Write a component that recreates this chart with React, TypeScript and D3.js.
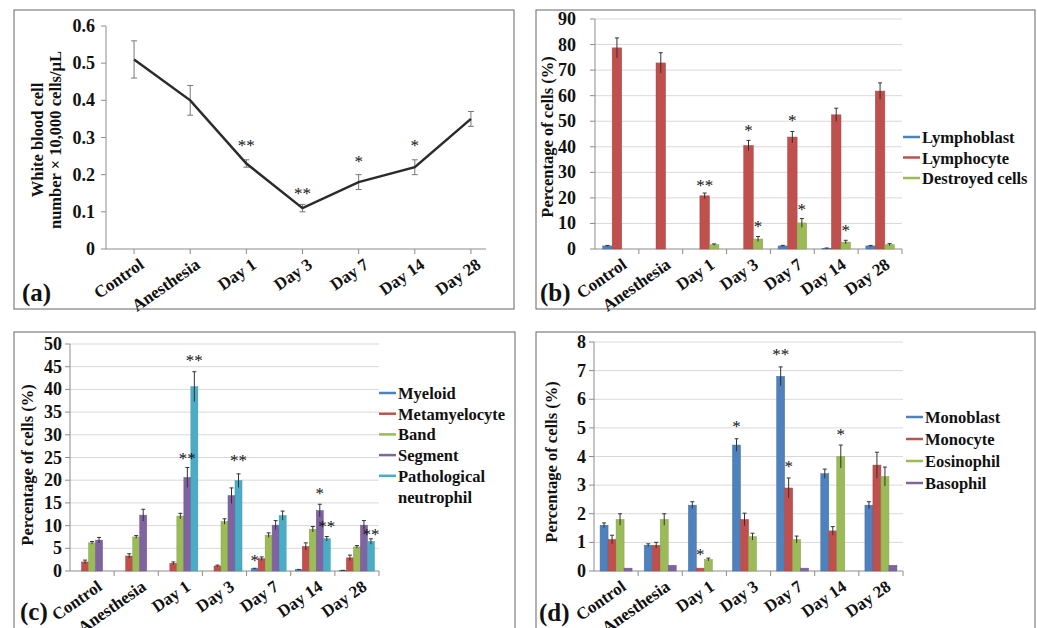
import React from 'react';
import * as d3 from 'd3';

const FONT = "'Liberation Serif', 'Times New Roman', serif";

const categories = ['Control', 'Anesthesia', 'Day 1', 'Day 3', 'Day 7', 'Day 14', 'Day 28'];

// (a) white blood cell count
const wbcMean = [0.51, 0.4, 0.23, 0.11, 0.18, 0.22, 0.35];
const wbcErr = [0.05, 0.04, 0.01, 0.01, 0.02, 0.02, 0.02];
const wbcTicks = [0, 0.1, 0.2, 0.3, 0.4, 0.5, 0.6];
const wbcStars = [
  { cat: 2, value: 0.284, text: '**' },
  { cat: 3, value: 0.157, text: '**' },
  { cat: 4, value: 0.241, text: '*' },
  { cat: 5, value: 0.284, text: '*' },
];

// (b) lymphocytes
const lymphNames = ['Lymphoblast', 'Lymphocyte', 'Destroyed cells'];
const lymphoblast = [1.2, 0, 0, 0, 1.2, 0.3, 1.2];
const lymphoblastErr = [0.2, 0, 0, 0, 0.2, 0.1, 0.2];
const lymphocyte = [78.7, 72.8, 20.8, 40.5, 43.8, 52.5, 61.8];
const lymphocyteErr = [3.9, 4, 1.1, 2, 2.2, 2.6, 3.2];
const destroyed = [0, 0, 1.7, 3.9, 10.2, 2.7, 1.7];
const destroyedErr = [0, 0, 0.3, 1, 1.7, 0.7, 0.4];
const lymphTicks = [0, 10, 20, 30, 40, 50, 60, 70, 80, 90];
const lymphStars = [
  { cat: 2, series: 1, value: 25.9, text: '**' },
  { cat: 3, series: 1, value: 47.5, text: '*' },
  { cat: 4, series: 1, value: 51.1, text: '*' },
  { cat: 3, series: 2, value: 9.8, text: '*' },
  { cat: 4, series: 2, value: 16.3, text: '*' },
  { cat: 5, series: 2, value: 8.1, text: '*' },
];

// (c) granulocytes
const granNames = ['Myeloid', 'Metamyelocyte', 'Band', 'Segment', 'Pathological\nneutrophil'];
const myeloid = [0, 0, 0, 0, 0.5, 0.3, 0.1];
const myeloidErr = [0, 0, 0, 0, 0.1, 0.05, 0.05];
const metamyelocyte = [2, 3.3, 1.7, 1.1, 2.7, 5.4, 2.9];
const metamyelocyteErr = [0.4, 0.5, 0.3, 0.2, 0.4, 0.8, 0.6];
const band = [6.2, 7.5, 12.1, 10.9, 7.9, 9.2, 5.3];
const bandErr = [0.3, 0.3, 0.6, 0.6, 0.5, 0.6, 0.3];
const segment = [6.8, 12.3, 20.6, 16.6, 10.1, 13.3, 10.1];
const segmentErr = [0.6, 1.3, 2.2, 1.7, 1, 1.4, 1];
const pathological = [0, 0, 40.6, 19.9, 12.2, 7.1, 6.5];
const pathologicalErr = [0, 0, 3.3, 1.5, 1, 0.5, 0.6];
const granTicks = [0, 5, 10, 15, 20, 25, 30, 35, 40, 45, 50];
const granStars = [
  { cat: 2, series: 4, value: 47.0, text: '**' },
  { cat: 2, series: 3, value: 25.4, text: '**' },
  { cat: 3, series: 4, value: 24.8, text: '**' },
  { cat: 4, series: 0, value: 2.9, text: '*' },
  { cat: 5, series: 3, value: 17.6, text: '*' },
  { cat: 5, series: 4, value: 10.4, text: '**' },
  { cat: 6, series: 4, value: 8.7, text: '**' },
];

// (d) monocytes etc.
const monoNames = ['Monoblast', 'Monocyte', 'Eosinophil', 'Basophil'];
const monoblast = [1.6, 0.9, 2.3, 4.4, 6.8, 3.4, 2.3];
const monoblastErr = [0.08, 0.05, 0.12, 0.22, 0.33, 0.16, 0.12];
const monocyte = [1.1, 0.9, 0.1, 1.8, 2.9, 1.4, 3.7];
const monocyteErr = [0.15, 0.1, 0, 0.22, 0.35, 0.15, 0.45];
const eosinophil = [1.8, 1.8, 0.4, 1.2, 1.1, 4.0, 3.3];
const eosinophilErr = [0.2, 0.2, 0.05, 0.12, 0.12, 0.4, 0.33];
const basophil = [0.1, 0.2, 0, 0, 0.1, 0, 0.2];
const basophilErr = [0, 0, 0, 0, 0, 0, 0];
const monoTicks = [0, 1, 2, 3, 4, 5, 6, 7, 8];
const monoStars = [
  { cat: 2, series: 1, value: 0.67, text: '*' },
  { cat: 3, series: 0, value: 5.12, text: '*' },
  { cat: 4, series: 0, value: 7.66, text: '**' },
  { cat: 4, series: 1, value: 3.73, text: '*' },
  { cat: 5, series: 2, value: 4.87, text: '*' },
];

const BLUE = '#4F81BD';
const RED = '#C0504D';
const GREEN = '#9BBB59';
const PURPLE = '#8064A2';
const CYAN = '#4BACC6';

const AXIS = '#8c8c8c';
const GRID = '#d9d9d9';

const XLabels = ({ xs, y }: { xs: number[]; y: number }) => (
  <g>
    {categories.map((c, i) => (
      <text
        key={c}
        transform={`translate(${xs[i] + 11},${y + 18}) rotate(-35)`}
        textAnchor="end"
        fontFamily={FONT}
        fontWeight="bold"
        fontSize={17}
        fill="#111"
      >
        {c}
      </text>
    ))}
  </g>
);

const LinePanel = () => {
  const left = 106, right = 499, top = 26, bottom = 249;
  const x = d3.scaleBand().domain(categories).range([left, right]);
  const cx = (c: string) => (x(c) as number) + x.bandwidth() / 2;
  const y = d3.scaleLinear().domain([0, 0.6]).range([bottom, top]);
  const line = d3
    .line<number>()
    .x((_, i) => cx(categories[i]))
    .y((d) => y(d));
  const xs = categories.map(cx);
  return (
    <g>
      <rect x={14} y={10} width={500} height={299} fill="none" stroke="#666" strokeWidth={1} />
      <line x1={left} x2={left} y1={top} y2={bottom} stroke={AXIS} />
      <line x1={left} x2={486} y1={bottom} y2={bottom} stroke={AXIS} />
      {wbcTicks.map((t) => (
        <g key={t}>
          <line x1={left - 5} x2={left} y1={y(t)} y2={y(t)} stroke={AXIS} />
          <text x={left - 11} y={y(t) + 6} textAnchor="end" fontFamily={FONT} fontWeight="bold" fontSize={18} fill="#111">
            {t}
          </text>
        </g>
      ))}
      {xs.map((v, i) => (
        <line key={i} x1={v} x2={v} y1={bottom} y2={bottom + 5} stroke={AXIS} />
      ))}
      <XLabels xs={xs} y={bottom} />
      <g transform="translate(43,140) rotate(-90)" fontFamily={FONT} fontWeight="bold" fontSize={16.5} fill="#111" textAnchor="middle">
        <text x={0} y={0}>White blood cell</text>
        <text x={0} y={18}>number × 10,000 cells/µL</text>
      </g>
      {wbcMean.map((m, i) => (
        <g key={i} stroke="#777" strokeWidth={1}>
          <line x1={xs[i]} x2={xs[i]} y1={y(m - wbcErr[i])} y2={y(m + wbcErr[i])} />
          <line x1={xs[i] - 3} x2={xs[i] + 3} y1={y(m - wbcErr[i])} y2={y(m - wbcErr[i])} />
          <line x1={xs[i] - 3} x2={xs[i] + 3} y1={y(m + wbcErr[i])} y2={y(m + wbcErr[i])} />
        </g>
      ))}
      <path d={line(wbcMean) || ''} fill="none" stroke="#2b2b2b" strokeWidth={2.5} />
      {wbcStars.map((s, i) => (
        <text key={i} x={xs[s.cat]} y={y(s.value) + 8} textAnchor="middle" fontFamily={FONT} fontSize={17} fill="#111">
          {s.text}
        </text>
      ))}
      <text x={22} y={301} fontFamily={FONT} fontWeight="bold" fontSize={25} fill="#111">(a)</text>
    </g>
  );
};

type Star = { cat: number; series: number; value: number; text: string };

type BarCfg = {
  box: [number, number, number, number];
  left: number;
  right: number;
  top: number;
  bottom: number;
  yMax: number;
  ticks: number[];
  tickGap: number;
  barW: number;
  names: string[];
  colors: string[];
  values: number[][];
  errors: number[][];
  stars: Star[];
  legendX: number;
  legendY: number;
  legendStep: number;
  titleX: number;
  titleY: number;
  tag: string;
  tagX: number;
  tagY: number;
};

const BarPanel = ({ cfg }: { cfg: BarCfg }) => {
  const { left, right, top, bottom } = cfg;
  const x = d3.scaleBand().domain(categories).range([left, right]);
  const n = cfg.names.length;
  const groupW = cfg.barW * n;
  const inner = d3.scaleBand<number>().domain(d3.range(n)).range([0, groupW]);
  const bx = (ci: number, si: number) =>
    (x(categories[ci]) as number) + (x.bandwidth() - groupW) / 2 + (inner(si) as number);
  const y = d3.scaleLinear().domain([0, cfg.yMax]).range([bottom, top]);
  const xs = categories.map((c) => (x(c) as number) + x.bandwidth() / 2);
  let ly = cfg.legendY;
  return (
    <g>
      <rect x={cfg.box[0]} y={cfg.box[1]} width={cfg.box[2]} height={cfg.box[3]} fill="none" stroke="#666" strokeWidth={1} />
      {cfg.ticks.map((t) => (
        <g key={t}>
          {t > 0 && <line x1={left} x2={right} y1={y(t)} y2={y(t)} stroke={GRID} />}
          <line x1={left - 5} x2={left} y1={y(t)} y2={y(t)} stroke={AXIS} />
          <text x={left - cfg.tickGap} y={y(t) + 6} textAnchor="end" fontFamily={FONT} fontWeight="bold" fontSize={18} fill="#111">
            {t}
          </text>
        </g>
      ))}
      <line x1={left} x2={left} y1={top} y2={bottom} stroke={AXIS} />
      <line x1={left} x2={right} y1={bottom} y2={bottom} stroke={AXIS} />
      {categories.map((c) => (
        <line key={c} x1={(x(c) as number) + x.bandwidth()} x2={(x(c) as number) + x.bandwidth()} y1={bottom} y2={bottom + 5} stroke={AXIS} />
      ))}
      {cfg.values.map((vals, si) =>
        vals.map((v, ci) => {
          const x0 = bx(ci, si);
          const e = cfg.errors[si][ci];
          const mid = x0 + cfg.barW / 2;
          return (
            <g key={`${si}-${ci}`}>
              {v > 0 && (
                <rect x={x0} y={y(v)} width={cfg.barW} height={bottom - y(v)} fill={cfg.colors[si]} stroke={d3.color(cfg.colors[si])!.darker(0.4).toString()} strokeWidth={0.5} />
              )}
              {e > 0 && (
                <g stroke="#333" strokeWidth={1}>
                  <line x1={mid} x2={mid} y1={y(v - e)} y2={y(v + e)} />
                  <line x1={mid - 2} x2={mid + 2} y1={y(v + e)} y2={y(v + e)} />
                </g>
              )}
            </g>
          );
        })
      )}
      {cfg.stars.map((s, i) => (
        <text key={i} x={bx(s.cat, s.series) + cfg.barW / 2} y={y(s.value) + 8} textAnchor="middle" fontFamily={FONT} fontSize={17} fill="#111">
          {s.text}
        </text>
      ))}
      <XLabels xs={xs} y={bottom} />
      <text transform={`translate(${cfg.titleX},${cfg.titleY}) rotate(-90)`} textAnchor="middle" fontFamily={FONT} fontWeight="bold" fontSize={16.5} fill="#111">
        Percentage of cells (%)
      </text>
      {cfg.names.map((name, i) => {
        const lines = name.split('\n');
        const yy = ly;
        ly += cfg.legendStep * lines.length;
        return (
          <g key={name}>
            <line x1={cfg.legendX} x2={cfg.legendX + 17} y1={yy} y2={yy} stroke={cfg.colors[i]} strokeWidth={2.5} />
            {lines.map((l, k) => (
              <text key={k} x={cfg.legendX + 19} y={yy + 6 + k * cfg.legendStep} fontFamily={FONT} fontWeight="bold" fontSize={16.5} fill="#111">
                {l}
              </text>
            ))}
          </g>
        );
      })}
      <text x={cfg.tagX} y={cfg.tagY} fontFamily={FONT} fontWeight="bold" fontSize={25} fill="#111">{cfg.tag}</text>
    </g>
  );
};

const panelB: BarCfg = {
  box: [536, 10, 499, 299],
  left: 595, right: 902, top: 19, bottom: 249, yMax: 90,
  ticks: lymphTicks, tickGap: 19, barW: 9.5,
  names: lymphNames, colors: [BLUE, RED, GREEN],
  values: [lymphoblast, lymphocyte, destroyed],
  errors: [lymphoblastErr, lymphocyteErr, destroyedErr],
  stars: lymphStars,
  legendX: 903, legendY: 137, legendStep: 20.5,
  titleX: 553, titleY: 137,
  tag: '(b)', tagX: 540, tagY: 301,
};

const panelC: BarCfg = {
  box: [14, 332, 501, 300],
  left: 70, right: 379, top: 344, bottom: 571, yMax: 50,
  ticks: granTicks, tickGap: 8, barW: 7,
  names: granNames, colors: [BLUE, RED, GREEN, PURPLE, CYAN],
  values: [myeloid, metamyelocyte, band, segment, pathological],
  errors: [myeloidErr, metamyelocyteErr, bandErr, segmentErr, pathologicalErr],
  stars: granStars,
  legendX: 379, legendY: 393, legendStep: 20.7,
  titleX: 33, titleY: 465,
  tag: '(c)', tagX: 20, tagY: 620,
};

const panelD: BarCfg = {
  box: [536, 332, 499, 300],
  left: 594, right: 903, top: 342, bottom: 571, yMax: 8,
  ticks: monoTicks, tickGap: 8, barW: 8,
  names: monoNames, colors: [BLUE, RED, GREEN, PURPLE],
  values: [monoblast, monocyte, eosinophil, basophil],
  errors: [monoblastErr, monocyteErr, eosinophilErr, basophilErr],
  stars: monoStars,
  legendX: 906, legendY: 417, legendStep: 22,
  titleX: 557, titleY: 462,
  tag: '(d)', tagX: 539, tagY: 621,
};

export default function App() {
  return (
    <svg width={1037} height={628} style={{ position: 'fixed', left: 0, top: 0, background: '#fff' }}>
      <rect width={1037} height={628} fill="#fff" />
      <LinePanel />
      <BarPanel cfg={panelB} />
      <BarPanel cfg={panelC} />
      <BarPanel cfg={panelD} />
    </svg>
  );
}
